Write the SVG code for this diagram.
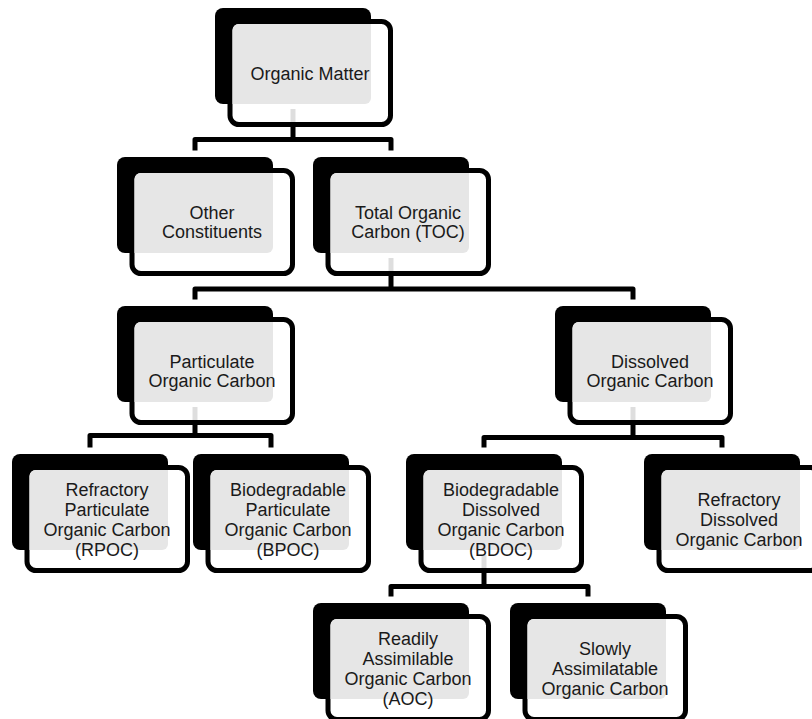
<svg xmlns="http://www.w3.org/2000/svg" xmlns:xlink="http://www.w3.org/1999/xlink" width="812" height="719" viewBox="0 0 812 719">
<style>
.conn{fill:none;stroke:#000;stroke-width:5;stroke-linejoin:round;stroke-linecap:butt}
.back{fill:#000}
.frame{fill:#fff;stroke:#000;stroke-width:5}
.face{fill:#e6e6e6}
.stub{stroke:#dedede;stroke-width:5}
.lbl{font-family:"Liberation Sans",Arial,sans-serif;font-size:18px;fill:#1a1a1a;text-anchor:middle}
</style>
<defs>
<g id="box">
<rect class="back" x="0" y="0" width="156" height="96" rx="8"/>
<rect class="frame" x="15" y="13.5" width="160.5" height="103" rx="9"/>
<path class="face" d="M23.5 16H156V90A6 6 0 0 1 150 96H17.5V22A6 6 0 0 1 23.5 16Z"/>
</g>
<line id="stub" class="stub" x1="78" y1="101" x2="78" y2="114"/>
</defs>
<g id="connectors">
<path class="conn" d="M293 127V139.5M195 150.5V139.5H391V150.5"/>
<path class="conn" d="M391 276V289M195 299.5V289H633V299.5"/>
<path class="conn" d="M195 425V435.5M90 447.5V435.5H271V447.5"/>
<path class="conn" d="M633 425V437.5M484 447.5V437.5H722V447.5"/>
<path class="conn" d="M484 573V586.5M391 596.5V586.5H588V596.5"/>
</g>
<g id="organic-matter" transform="translate(215,8)">
<use xlink:href="#box"/>
<use xlink:href="#stub"/>
<text class="lbl" x="95" y="71.5">Organic Matter</text>
</g>
<g id="other-constituents" transform="translate(117,157)">
<use xlink:href="#box"/>
<text class="lbl" x="95" y="62">Other</text>
<text class="lbl" x="95" y="81">Constituents</text>
</g>
<g id="toc" transform="translate(313,157)">
<use xlink:href="#box"/>
<use xlink:href="#stub"/>
<text class="lbl" x="95" y="62">Total Organic</text>
<text class="lbl" x="95" y="81">Carbon (TOC)</text>
</g>
<g id="poc" transform="translate(117,306)">
<use xlink:href="#box"/>
<use xlink:href="#stub"/>
<text class="lbl" x="95" y="62">Particulate</text>
<text class="lbl" x="95" y="81">Organic Carbon</text>
</g>
<g id="doc" transform="translate(555,306)">
<use xlink:href="#box"/>
<use xlink:href="#stub"/>
<text class="lbl" x="95" y="62">Dissolved</text>
<text class="lbl" x="95" y="81">Organic Carbon</text>
</g>
<g id="rpoc" transform="translate(12,454)">
<use xlink:href="#box"/>
<text class="lbl" x="95" y="41.5">Refractory</text>
<text class="lbl" x="95" y="61.5">Particulate</text>
<text class="lbl" x="95" y="81.5">Organic Carbon</text>
<text class="lbl" x="95" y="101.5">(RPOC)</text>
</g>
<g id="bpoc" transform="translate(193,454)">
<use xlink:href="#box"/>
<text class="lbl" x="95" y="41.5">Biodegradable</text>
<text class="lbl" x="95" y="61.5">Particulate</text>
<text class="lbl" x="95" y="81.5">Organic Carbon</text>
<text class="lbl" x="95" y="101.5">(BPOC)</text>
</g>
<g id="bdoc" transform="translate(406,454)">
<use xlink:href="#box"/>
<use xlink:href="#stub"/>
<text class="lbl" x="95" y="41.5">Biodegradable</text>
<text class="lbl" x="95" y="61.5">Dissolved</text>
<text class="lbl" x="95" y="81.5">Organic Carbon</text>
<text class="lbl" x="95" y="101.5">(BDOC)</text>
</g>
<g id="rdoc" transform="translate(644,454)">
<use xlink:href="#box"/>
<text class="lbl" x="95" y="51.5">Refractory</text>
<text class="lbl" x="95" y="71.5">Dissolved</text>
<text class="lbl" x="95" y="91.5">Organic Carbon</text>
</g>
<g id="aoc" transform="translate(313,603)">
<use xlink:href="#box"/>
<text class="lbl" x="95" y="41.5">Readily</text>
<text class="lbl" x="95" y="61.5">Assimilable</text>
<text class="lbl" x="95" y="81.5">Organic Carbon</text>
<text class="lbl" x="95" y="101.5">(AOC)</text>
</g>
<g id="saoc" transform="translate(510,603)">
<use xlink:href="#box"/>
<text class="lbl" x="95" y="51.5">Slowly</text>
<text class="lbl" x="95" y="71.5">Assimilatable</text>
<text class="lbl" x="95" y="91.5">Organic Carbon</text>
</g>
</svg>
